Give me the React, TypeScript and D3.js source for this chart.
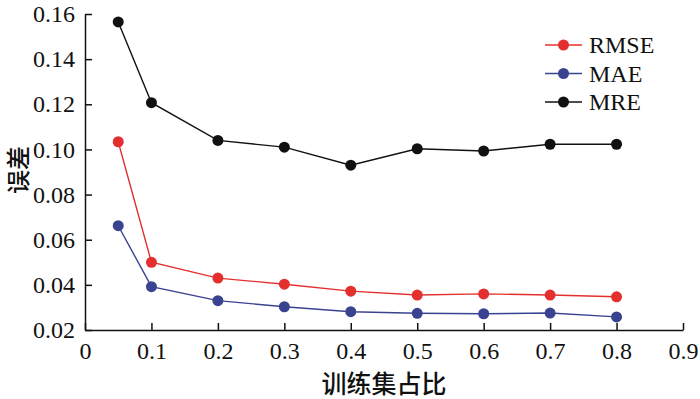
import * as d3 from "d3";
import { useEffect, useRef } from "react";

const ratios = [0.05, 0.1, 0.2, 0.3, 0.4, 0.5, 0.6, 0.7, 0.8];
const rmse = [0.1034, 0.05, 0.043, 0.0403, 0.0372, 0.0355, 0.036, 0.0355, 0.0347];
const mae = [0.0662, 0.0392, 0.033, 0.0303, 0.0281, 0.0274, 0.0272, 0.0275, 0.0258];
const mre = [0.1565, 0.1207, 0.104, 0.101, 0.093, 0.1003, 0.0993, 0.1023, 0.1023];

const xTicks = [0, 0.1, 0.2, 0.3, 0.4, 0.5, 0.6, 0.7, 0.8, 0.9];
const yTicks = [0.02, 0.04, 0.06, 0.08, 0.1, 0.12, 0.14, 0.16];

const seriesNames = ["RMSE", "MAE", "MRE"];
const seriesColors = ["#e3302f", "#3a4390", "#111111"];

export default function App() {
    const svgRef = useRef<SVGSVGElement | null>(null);

    useEffect(() => {
        if (!svgRef.current) return;
        document.body.style.margin = "0";

        const svg = d3.select(svgRef.current);
        const totalW = 700;
        const totalH = 399;
        const margin = { top: 14, right: 17, bottom: 69, left: 85 };
        const W = totalW - margin.left - margin.right;
        const H = totalH - margin.top - margin.bottom;

        svg.attr("width", totalW).attr("height", totalH);
        svg.selectAll("*").remove();

        const g = svg
            .append("g")
            .attr("transform", `translate(${margin.left},${margin.top})`);

        const x = d3.scaleLinear().domain([0, 0.9]).range([0, W]);
        const y = d3.scaleLinear().domain([0.02, 0.16]).range([H, 0]);

        const serif = "'Liberation Serif', 'Times New Roman', serif";
        const cjk = "'Noto Sans CJK SC', sans-serif";

        // axes, ticks pointing inward
        const xAxis = g
            .append("g")
            .attr("transform", `translate(0,${H})`)
            .call(
                d3.axisBottom(x)
                    .tickValues(xTicks)
                    .tickSizeInner(-7)
                    .tickSizeOuter(0)
                    .tickPadding(12)
                    .tickFormat((d) => (d === 0 ? "0" : d3.format(".1f")(d as number)))
            );
        const yAxis = g.append("g").call(
            d3.axisLeft(y)
                .tickValues(yTicks)
                .tickSizeInner(-7)
                .tickSizeOuter(0)
                .tickPadding(10)
                .tickFormat(d3.format(".2f"))
        );

        [xAxis, yAxis].forEach((a) => {
            a.attr("font-family", serif).attr("font-size", 24);
            a.select(".domain").attr("stroke", "#111").attr("stroke-width", 1.5);
            a.selectAll(".tick line").attr("stroke", "#111").attr("stroke-width", 1.5);
            a.selectAll(".tick text")
                .attr("fill", "#111")
                .style("font-family", serif);
        });

        const line = d3
            .line<number>()
            .x((_, i) => x(ratios[i]))
            .y((d) => y(d));

        [rmse, mae, mre].forEach((vals, k) => {
            g.append("path")
                .datum(vals)
                .attr("fill", "none")
                .attr("stroke", seriesColors[k])
                .attr("stroke-width", 1.4)
                .attr("d", line);
            g.selectAll(null)
                .data(vals)
                .enter()
                .append("circle")
                .attr("cx", (_, i) => x(ratios[i]))
                .attr("cy", (d) => y(d))
                .attr("r", 5.5)
                .attr("fill", seriesColors[k]);
        });

        // legend
        const legend = svg.append("g").attr("transform", "translate(545,45)");
        seriesNames.forEach((name, k) => {
            const row = legend.append("g").attr("transform", `translate(0,${k * 28.5})`);
            row.append("line")
                .attr("x1", 0)
                .attr("x2", 37)
                .attr("stroke", seriesColors[k])
                .attr("stroke-width", 1.4);
            row.append("circle").attr("cx", 18.5).attr("r", 5.5).attr("fill", seriesColors[k]);
            row.append("text")
                .attr("x", 44)
                .attr("dy", "0.35em")
                .attr("fill", "#111")
                .style("font-family", serif)
                .style("font-size", "24px")
                .text(name);
        });

        // axis titles
        svg.append("text")
            .attr("x", margin.left + x(0.45))
            .attr("y", 382)
            .attr("text-anchor", "middle")
            .attr("dominant-baseline", "central")
            .attr("fill", "#111")
            .style("font-family", cjk)
            .style("font-size", "25px")
            .style("font-weight", "500")
            .text("训练集占比");

        svg.append("text")
            .attr("transform", `translate(16,170) rotate(-90)`)
            .attr("text-anchor", "middle")
            .attr("dominant-baseline", "central")
            .attr("fill", "#111")
            .style("font-family", cjk)
            .style("font-size", "24px")
            .style("font-weight", "500")
            .text("误差");
    }, []);

    return <svg ref={svgRef} style={{ display: "block" }} />;
}
